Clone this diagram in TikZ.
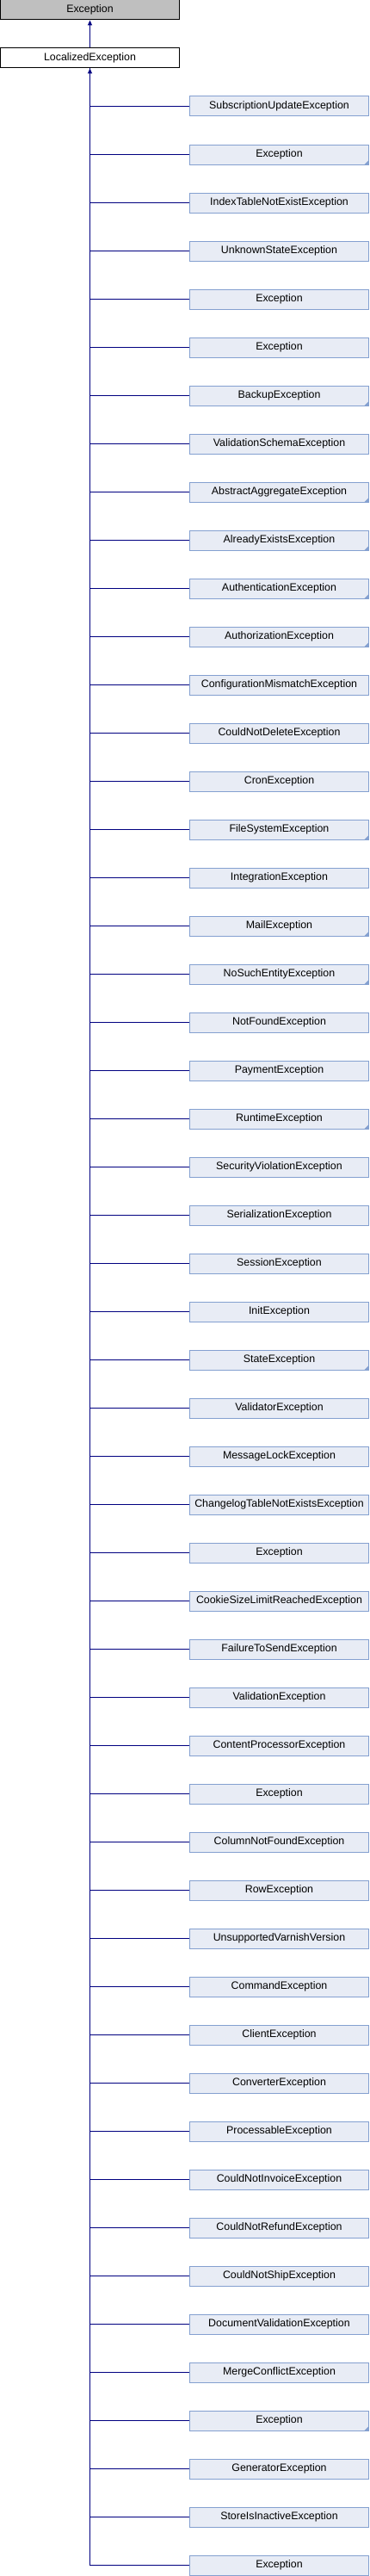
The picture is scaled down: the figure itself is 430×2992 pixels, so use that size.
\documentclass[tikz,border=0pt]{standalone}
\usepackage{fontspec}
\setmainfont{Liberation Sans}
\usepackage{xcolor}
\usepackage{tikz}
\usetikzlibrary{arrows.meta,positioning}

\definecolor{boxfill}{HTML}{E8ECF5}
\definecolor{boxline}{HTML}{84A0D0}
\definecolor{linkcol}{HTML}{000080}
\definecolor{rootfill}{HTML}{BFBFBF}

\begin{document}
\begin{tikzpicture}[x=1pt, y=1pt,
  cls/.style={draw, line width=1pt, minimum width=208pt, minimum height=23pt,
    inner sep=0pt, font=\fontsize{12.4}{14}\selectfont},
  kid/.style={cls, draw=boxline, fill=boxfill},
  plain/.style={},
  more/.style={path picture={\fill[boxline] (path picture bounding box.south east)
    -- ++(-5,0) -- ++(5,5) -- cycle;}},
  inherit/.style={linkcol, line width=1pt}]
  \useasboundingbox (0,0) rectangle (430,-2992);

  % Base classes
  \node[cls, fill=rootfill] (exc) at (104.5,-11.5) {Exception};
  \node[cls, fill=white] (loc) at (104.5,-67.5) {LocalizedException};
  \draw[inherit, -{Triangle[length=6pt,width=5pt]}] (loc.north) -- (exc.south);

  % Derived classes
  \foreach \i/\lab/\opt in {
    1/SubscriptionUpdateException/plain, 2/Exception/more,
    3/IndexTableNotExistException/plain, 4/UnknownStateException/plain,
    5/Exception/plain, 6/Exception/plain, 7/BackupException/more,
    8/ValidationSchemaException/plain, 9/AbstractAggregateException/more,
    10/AlreadyExistsException/more, 11/AuthenticationException/more,
    12/AuthorizationException/more, 13/ConfigurationMismatchException/plain,
    14/CouldNotDeleteException/plain, 15/CronException/plain,
    16/FileSystemException/more, 17/IntegrationException/plain,
    18/MailException/more, 19/NoSuchEntityException/more,
    20/NotFoundException/plain, 21/PaymentException/plain,
    22/RuntimeException/more, 23/SecurityViolationException/plain,
    24/SerializationException/plain, 25/SessionException/plain,
    26/InitException/plain, 27/StateException/more,
    28/ValidatorException/plain, 29/MessageLockException/plain,
    30/ChangelogTableNotExistsException/plain, 31/Exception/plain,
    32/CookieSizeLimitReachedException/plain, 33/FailureToSendException/plain,
    34/ValidationException/plain, 35/ContentProcessorException/plain,
    36/Exception/plain, 37/ColumnNotFoundException/plain,
    38/RowException/plain, 39/UnsupportedVarnishVersion/plain,
    40/CommandException/plain, 41/ClientException/plain,
    42/ConverterException/plain, 43/ProcessableException/plain,
    44/CouldNotInvoiceException/plain, 45/CouldNotRefundException/plain,
    46/CouldNotShipException/plain, 47/DocumentValidationException/plain,
    48/MergeConflictException/plain, 49/Exception/more,
    50/GeneratorException/plain, 51/StoreIsInactiveException/plain,
    52/Exception/plain} {
    \node[kid, \opt] (c\i) at (324.5, {-123.5-56*(\i-1)}) {\lab};
  }

  % Inheritance links
  \foreach \i in {1,...,51} {
    \draw[inherit] (loc.south) |- (c\i.west);
  }
  \draw[inherit, {Triangle[length=6pt,width=5pt]}-] (loc.south) |- (c52.west);
\end{tikzpicture}
\end{document}
